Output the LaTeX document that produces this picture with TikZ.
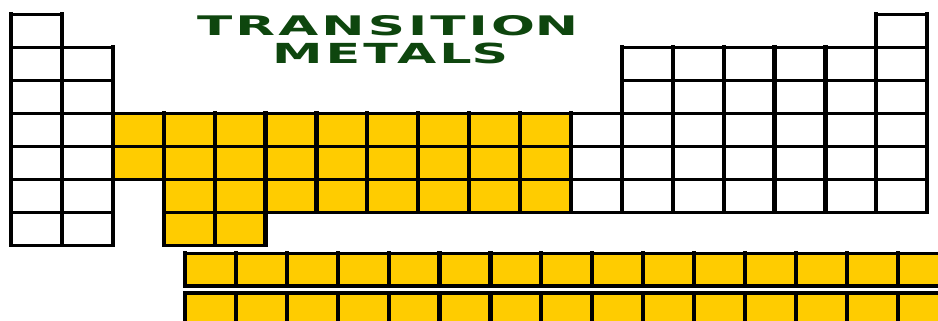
\documentclass[tikz,border=0pt]{standalone}
\usepackage{fontspec}
\newfontfamily\titlefont{DejaVu Sans}[LetterSpace=6]
\usepackage{graphicx}
\definecolor{tmyellow}{RGB}{255,204,0}
\definecolor{titlegreen}{RGB}{14,70,14}
\tikzset{
  hline/.style={line width=3pt, line cap=rect, black},
  vline/.style={line width=4.2pt, line cap=rect, black},
  lhline/.style={line width=3.4pt, line cap=rect, black},
  titletext/.style={inner sep=0pt, anchor=base west, text=titlegreen, font=\titlefont\bfseries}
}
\newcommand\cellx[1]{11+50.9*(#1-1)}
\newcommand\celly[1]{14.3+33*(#1-1)}
\begin{document}
\begin{tikzpicture}[x=1pt,y=-1pt]
\useasboundingbox (0,0) rectangle (938,321);
\fill[white] (0,0) rectangle (938,321);
\clip (0,0) rectangle (938,321);
% ---- main table: fills
\def\whitecells{1/1,1/2,1/3,1/4,1/5,1/6,1/7,2/2,2/3,2/4,2/5,2/6,2/7,12/4,12/5,12/6,
13/2,13/3,13/4,13/5,13/6,14/2,14/3,14/4,14/5,14/6,15/2,15/3,15/4,15/5,15/6,
16/2,16/3,16/4,16/5,16/6,17/2,17/3,17/4,17/5,17/6,18/1,18/2,18/3,18/4,18/5,18/6}
\def\yellowcells{3/4,4/4,5/4,6/4,7/4,8/4,9/4,10/4,11/4,3/5,4/5,5/5,6/5,7/5,8/5,9/5,10/5,11/5,
4/6,5/6,6/6,7/6,8/6,9/6,10/6,11/6,4/7,5/7}
\foreach \c/\r in \yellowcells {
  \fill[tmyellow] ({\cellx{\c}},{\celly{\r}}) rectangle ++(50.9,33);
}
% ---- main table: lines
\foreach \c/\r in \whitecells {
  \draw[hline] ({\cellx{\c}},{\celly{\r}}) -- ++(50.9,0) ({\cellx{\c}},{\celly{\r}+33}) -- ++(50.9,0);
}
\foreach \c/\r in \yellowcells {
  \draw[hline] ({\cellx{\c}},{\celly{\r}}) -- ++(50.9,0) ({\cellx{\c}},{\celly{\r}+33}) -- ++(50.9,0);
}
\foreach \c/\r in \whitecells {
  \draw[vline] ({\cellx{\c}},{\celly{\r}}) -- ++(0,33) ({\cellx{\c}+50.9},{\celly{\r}}) -- ++(0,33);
}
\foreach \c/\r in \yellowcells {
  \draw[vline] ({\cellx{\c}},{\celly{\r}}) -- ++(0,33) ({\cellx{\c}+50.9},{\celly{\r}}) -- ++(0,33);
}
% ---- lanthanide / actinide rows
\foreach \ty in {253.5,293} {
  \fill[tmyellow] (185,\ty) rectangle ({185+50.9*15},{\ty+32.5});
  \draw[lhline] (185,\ty) -- ({185+50.9*15},\ty) (185,{\ty+32.5}) -- ({185+50.9*15},{\ty+32.5});
  \foreach \k in {0,...,15} {
    \draw[vline] ({185+50.9*\k},\ty) -- ++(0,32.5);
  }
}
% ---- title
\node[titletext] (t1) at (197,35) {\resizebox{381pt}{20pt}{TRANSITIO\hbox{N}}};
\node[titletext] (t2) at (272,63.5) {\resizebox{236pt}{20.5pt}{METAL\hbox{S}}};
\end{tikzpicture}
\end{document}
